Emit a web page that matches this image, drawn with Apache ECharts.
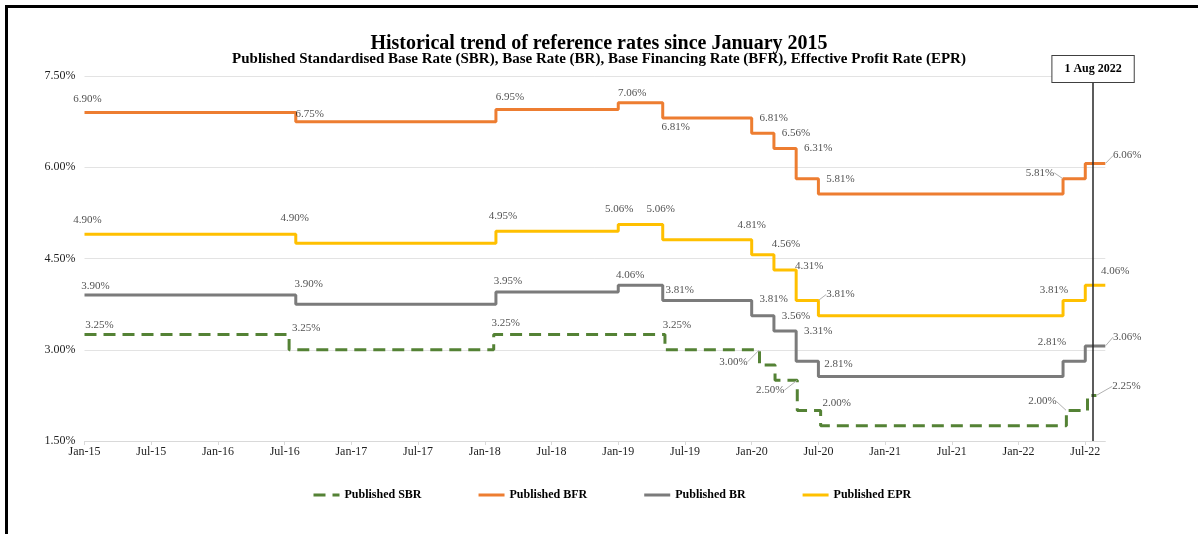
<!DOCTYPE html>
<html>
<head>
<meta charset="utf-8">
<title>Historical trend of reference rates since January 2015</title>
<script src="https://cdn.jsdelivr.net/npm/echarts@6/dist/echarts.min.js"></script>
<style>
  html, body { margin: 0; padding: 0; background: #fff; }
  #chart { position: absolute; left: 0; top: 0; width: 1198px; height: 534px; }
  .frame { position: absolute; left: 5px; top: 5px; width: 1300px; height: 700px; border: 3px solid #000; pointer-events: none; }
</style>
</head>
<body>
<div id="chart"></div>
<div class="frame"></div>
<script>
// x = months counted from Jan 2015 (0 = Jan-15, 90 = Jul-22)
const tickLabels = ['Jan-15', 'Jul-15', 'Jan-16', 'Jul-16', 'Jan-17', 'Jul-17', 'Jan-18', 'Jul-18',
  'Jan-19', 'Jul-19', 'Jan-20', 'Jul-20', 'Jan-21', 'Jul-21', 'Jan-22', 'Jul-22'];

// rate holds from this month until the next entry
const sbrSteps = [[0, 3.25], [18.4, 3.00], [36.8, 3.25], [52.2, 3.00], [60.7, 2.75], [62.1, 2.50],
  [64.1, 2.00], [66.2, 1.75], [88.3, 2.00], [90.2, 2.25], [91, 2.25]];
const bfrSteps = [[0, 6.90], [19, 6.75], [37, 6.95], [48, 7.06], [52, 6.81], [60, 6.56], [62, 6.31],
  [64, 5.81], [66, 5.56], [88, 5.81], [90, 6.06], [91.8, 6.06]];
const brSteps = [[0, 3.90], [19, 3.75], [37, 3.95], [48, 4.06], [52, 3.81], [60, 3.56], [62, 3.31],
  [64, 2.81], [66, 2.56], [88, 2.81], [90, 3.06], [91.8, 3.06]];
const eprSteps = [[0, 4.90], [19, 4.75], [37, 4.95], [48, 5.06], [52, 4.81], [60, 4.56], [62, 4.31],
  [64, 3.81], [66, 3.56], [88, 3.81], [90, 4.06], [91.8, 4.06]];

// value labels: [month, rate shown]
const sbrTags = [[0, 3.25], [18.4, 3.25], [36.8, 3.25], [52.2, 3.25], [60.7, 3.00], [64.1, 2.50],
  [66.2, 2.00], [88.3, 2.00], [91, 2.25]];
const bfrTags = [[0, 6.90], [19, 6.75], [37, 6.95], [48, 7.06], [52, 6.81], [60, 6.81], [62, 6.56],
  [64, 6.31], [66, 5.81], [88, 5.81], [91.8, 6.06]];
const brTags = [[0, 3.90], [19, 3.90], [37, 3.95], [48, 4.06], [52, 3.81], [60, 3.81], [62, 3.56],
  [64, 3.31], [66, 2.81], [88, 2.81], [91.8, 3.06]];
const eprTags = [[0, 4.90], [19, 4.90], [37, 4.95], [48, 5.06], [52, 5.06], [60, 4.81], [62, 4.56],
  [64, 4.31], [66, 3.81], [88, 3.81], [91.8, 4.06]];

const markMonth = 90.7;
const markText = '1 Aug 2022';

// label nudges in px [dx, dy, leader line]
const sbrNudge = [[15, -9], [17, -6], [12, -11], [12, -9], [-26, 12, 1], [-27, 10, 1], [16, -7], [-24, -9, 1], [30, -9, 1]];
const bfrNudge = [[3, -13], [14, -8], [14, -12], [14, -10], [13, 9], [22, 0], [22, 0], [22, 0], [22, 0], [-23, -6, 1], [22, -8, 1]];
const brNudge = [[11, -9], [13, -11], [12, -11], [12, -10], [17, -10], [22, -1], [22, 0], [22, 0], [20, 3], [-11, -19], [22, -9, 1]];
const eprNudge = [[3, -14], [-1, -16], [7, -15], [1, -15], [-2, -15], [0, -15], [12, -11], [13, -4], [22, -6, 1], [-9, -10], [10, -14]];

const FONT = '"Liberation Serif", "DejaVu Serif", serif';
const colors = { sbr: '#548235', bfr: '#ED7D31', br: '#7B7B7B', epr: '#FFC000' };

const chart = echarts.init(document.getElementById('chart'));

function stepLine(name, data, color, dashed) {
  return {
    name: name,
    type: 'line',
    step: 'end',
    data: data,
    symbol: 'none',
    color: color,
    lineStyle: { color: color, width: 3, type: dashed ? [12, 7] : 'solid', cap: 'butt' },
    z: 3
  };
}

function tagSeries(name, tags, nudges) {
  return {
    name: name,
    type: 'scatter',
    symbolSize: 1,
    silent: true,
    itemStyle: { color: 'rgba(0,0,0,0)' },
    data: tags.map((t, i) => ({
      value: t,
      labelLine: { show: !!nudges[i][2] }
    })),
    label: {
      show: true,
      position: 'inside',
      formatter: (p) => p.value[1].toFixed(2) + '%',
      color: '#1f1f1f',
      fontSize: 11,
      fontFamily: FONT
    },
    labelLine: { lineStyle: { color: '#B0B0B0', width: 1 } },
    labelLayout: (p) => ({ dx: nudges[p.dataIndex][0], dy: nudges[p.dataIndex][1] }),
    z: 5
  };
}

const bfrLine = stepLine('Published BFR', bfrSteps, colors.bfr, false);
bfrLine.markLine = {
  silent: true,
  symbol: ['none', 'none'],
  lineStyle: { color: '#262626', width: 1.5, type: 'solid' },
  label: {
    show: true,
    position: 'end',
    distance: -6,
    formatter: markText,
    color: '#000',
    fontWeight: 'bold',
    fontSize: 12,
    fontFamily: FONT,
    backgroundColor: '#fff',
    borderColor: '#404040',
    borderWidth: 1,
    padding: [7, 12]
  },
  data: [{ xAxis: markMonth }]
};

chart.setOption({
  animation: false,
  title: [
    {
      left: 'center',
      top: 29,
      text: 'Historical trend of reference rates since January 2015',
      textStyle: { fontFamily: FONT, fontSize: 20, fontWeight: 'bold', color: '#000' }
    },
    {
      left: 'center',
      top: 47,
      text: 'Published Standardised Base Rate (SBR), Base Rate (BR), Base Financing Rate (BFR), Effective Profit Rate (EPR)',
      textStyle: { fontFamily: FONT, fontSize: 15, fontWeight: 'bold', color: '#000' }
    }
  ],
  legend: {
    data: ['Published SBR', 'Published BFR', 'Published BR', 'Published EPR'],
    left: 307,
    top: 484,
    itemWidth: 26,
    itemHeight: 12,
    itemGap: 55.5,
    itemStyle: { opacity: 0 },
    lineStyle: { width: 3 },
    textStyle: { fontFamily: FONT, fontSize: 12, fontWeight: 'bold', color: '#000' }
  },
  grid: { left: 84.5, right: 92.7, top: 76, bottom: 93, containLabel: false },
  xAxis: {
    type: 'value',
    min: 0,
    max: 91.8,
    interval: 6,
    axisLine: { lineStyle: { color: '#D9D9D9', width: 1 } },
    axisTick: { show: true, length: 4, lineStyle: { color: '#D9D9D9' }, customValues: tickLabels.map((l, i) => i * 6) },
    axisLabel: {
      customValues: tickLabels.map((l, i) => i * 6),
      formatter: (v) => tickLabels[Math.round(v / 6)] || '',
      color: '#1f1f1f',
      fontSize: 12,
      fontFamily: FONT,
      margin: 5
    },
    splitLine: { show: false }
  },
  yAxis: {
    type: 'value',
    min: 1.5,
    max: 7.5,
    interval: 1.5,
    axisLine: { show: false },
    axisTick: { show: false },
    axisLabel: {
      formatter: (v) => v.toFixed(2) + '%',
      color: '#1f1f1f',
      fontSize: 12,
      fontFamily: FONT,
      margin: 9
    },
    splitLine: { lineStyle: { color: '#E3E3E3', width: 1 } }
  },
  series: [
    stepLine('Published SBR', sbrSteps, colors.sbr, true),
    bfrLine,
    stepLine('Published BR', brSteps, colors.br, false),
    stepLine('Published EPR', eprSteps, colors.epr, false),
    tagSeries('sbr tags', sbrTags, sbrNudge),
    tagSeries('bfr tags', bfrTags, bfrNudge),
    tagSeries('br tags', brTags, brNudge),
    tagSeries('epr tags', eprTags, eprNudge)
  ]
});
</script>
</body>
</html>
